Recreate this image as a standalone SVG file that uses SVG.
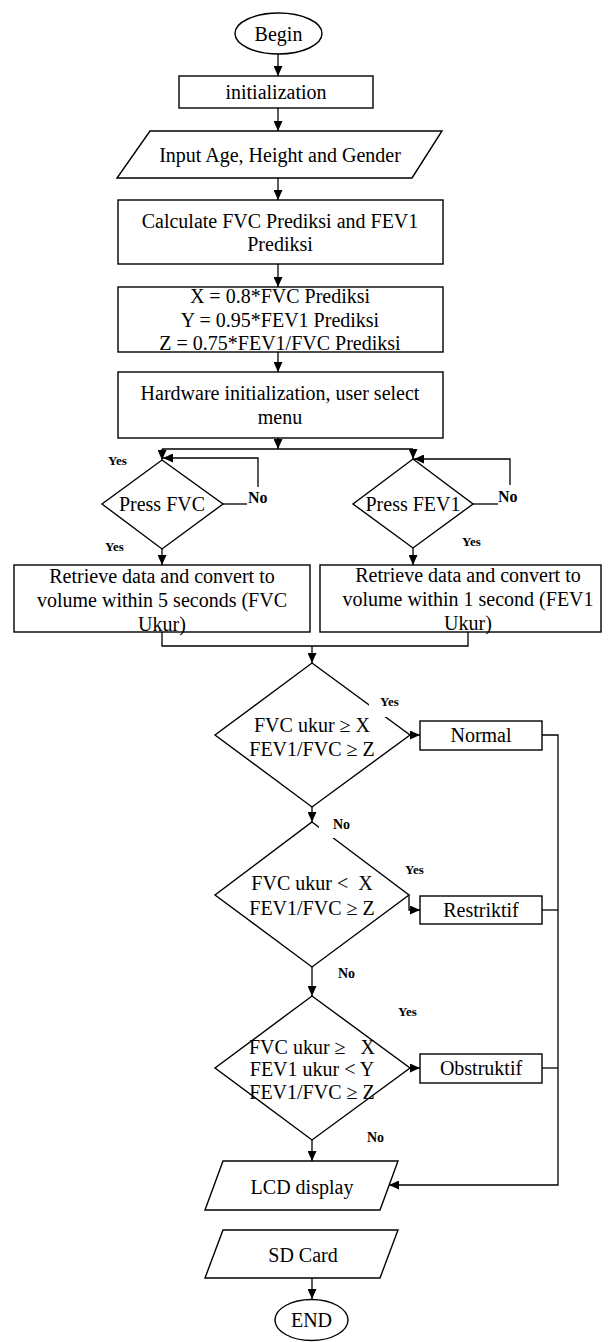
<svg xmlns="http://www.w3.org/2000/svg" width="615" height="1342" viewBox="0 0 615 1342">
<style>
.s{fill:#fff;stroke:#000;stroke-width:1.4}
.t{font-family:"Liberation Serif","Times New Roman",serif;font-size:20px;fill:#000;text-anchor:middle}
.pre{white-space:pre}
.y{font-family:"Liberation Serif","Times New Roman",serif;font-size:13px;font-weight:bold;fill:#000}
.n{font-family:"Liberation Serif","Times New Roman",serif;font-size:16px;font-weight:bold;fill:#000}
.c{fill:none;stroke:#000;stroke-width:1.3}
.bg{fill:#fff;stroke:none}
</style>
<defs>
<marker id="ah" markerUnits="userSpaceOnUse" markerWidth="10" markerHeight="9" refX="10" refY="4.5" orient="auto">
<path d="M0,0 L10,4.5 L0,9 z" fill="#000"/>
</marker>
</defs>

<g id="begin">
<ellipse class="s" cx="278.5" cy="33.5" rx="43.5" ry="20.5"/>
<text class="t" x="278.5" y="40.5">Begin</text>
</g>
<g id="init">
<rect class="s" x="179" y="76" width="194" height="32"/>
<text class="t" x="276" y="99">initialization</text>
</g>
<g id="input">
<polygon class="s" points="150,131 442,131 412,178 117,178"/>
<text class="t" x="280" y="162">Input Age, Height and Gender</text>
</g>
<g id="calc">
<rect class="s" x="118" y="200" width="325" height="64"/>
<text class="t" x="280" y="228">Calculate FVC Prediksi and FEV1</text>
<text class="t" x="280" y="251">Prediksi</text>
</g>
<g id="xyz">
<rect class="s" x="118" y="287" width="325" height="65"/>
<text class="t" x="280" y="303">X = 0.8*FVC Prediksi</text>
<text class="t" x="280" y="327">Y = 0.95*FEV1 Prediksi</text>
<text class="t" x="280" y="350">Z = 0.75*FEV1/FVC Prediksi</text>
</g>
<g id="hw">
<rect class="s" x="118" y="372" width="325" height="66"/>
<text class="t" x="280" y="400">Hardware initialization, user select</text>
<text class="t" x="280" y="424">menu</text>
</g>
<g id="pressfvc">
<polygon class="s" points="162,460 223,504 162,549 102,504"/>
<text class="t" x="162" y="511">Press FVC</text>
</g>
<g id="pressfev1">
<polygon class="s" points="413,459 473,504 413,548 353,504"/>
<text class="t" x="413" y="511">Press FEV1</text>
</g>
<g id="retrfvc">
<rect class="s" x="14" y="565" width="296" height="67"/>
<text class="t" x="162" y="583">Retrieve data and convert to</text>
<text class="t" x="162" y="607">volume within 5 seconds (FVC</text>
<text class="t" x="162" y="631">Ukur)</text>
</g>
<g id="retrfev1">
<rect class="s" x="320" y="565" width="281" height="67"/>
<text class="t" x="468" y="582">Retrieve data and convert to</text>
<text class="t" x="468" y="606">volume within 1 second (FEV1</text>
<text class="t" x="468" y="630">Ukur)</text>
</g>

<g id="connectors">
<path class="c" d="M278,54 V76" marker-end="url(#ah)"/>
<path class="c" d="M278,108 V131" marker-end="url(#ah)"/>
<path class="c" d="M278,178 V200" marker-end="url(#ah)"/>
<path class="c" d="M278,264 V287" marker-end="url(#ah)"/>
<path class="c" d="M278,352 V372" marker-end="url(#ah)"/>
<path class="c" d="M278,438 V449" marker-end="url(#ah)"/>
<path class="c" d="M162,449 H413"/>
<path class="c" d="M162,449 V460" marker-end="url(#ah)"/>
<path class="c" d="M413,449 V459" marker-end="url(#ah)"/>
<path class="c" d="M223,504 H247"/>
<path class="c" d="M258,487 V458 H163" marker-end="url(#ah)"/>
<path class="c" d="M473,504 H498"/>
<path class="c" d="M510,485 V459 H414" marker-end="url(#ah)"/>
<path class="c" d="M162,549 V565" marker-end="url(#ah)"/>
<path class="c" d="M413,548 V565" marker-end="url(#ah)"/>
<path class="c" d="M162,632 V646 H468 V632"/>
<path class="c" d="M312,646 V663" marker-end="url(#ah)"/>
<path class="c" d="M410,735 H420" marker-end="url(#ah)"/>
<path class="c" d="M312,807 V822" marker-end="url(#ah)"/>
<path class="c" d="M409,895 V910 H420" marker-end="url(#ah)"/>
<path class="c" d="M312,967 V996" marker-end="url(#ah)"/>
<path class="c" d="M410,1068 H420" marker-end="url(#ah)"/>
<path class="c" d="M312,1140 V1161" marker-end="url(#ah)"/>
<path class="c" d="M542,735 H558 V1185 H389" marker-end="url(#ah)"/>
<path class="c" d="M542,910 H558"/>
<path class="c" d="M542,1068 H558"/>
<path class="c" d="M312,1278 V1299" marker-end="url(#ah)"/>
</g>

<g id="d1">
<polygon class="s" points="312,663 410,735 312,807 215,735"/>
<text class="t" x="312" y="732">FVC ukur ≥ X</text>
<text class="t" x="312" y="756">FEV1/FVC ≥ Z</text>
</g>
<g id="normal">
<rect class="s" x="420" y="721" width="122" height="29"/>
<text class="t" x="481" y="742">Normal</text>
</g>
<g id="d2">
<polygon class="s" points="312,822 409,895 312,967 215,895"/>
<text class="t pre" x="312" y="890">FVC ukur &lt;  X</text>
<text class="t" x="312" y="915">FEV1/FVC ≥ Z</text>
</g>
<g id="restriktif">
<rect class="s" x="420" y="896" width="122" height="28"/>
<text class="t" x="481" y="917">Restriktif</text>
</g>
<g id="d3">
<polygon class="s" points="312,996 410,1068 312,1140 215,1068"/>
<text class="t pre" x="312" y="1054">FVC ukur ≥   X</text>
<text class="t" x="312" y="1076">FEV1 ukur &lt; Y</text>
<text class="t" x="312" y="1099">FEV1/FVC ≥ Z</text>
</g>
<g id="obstruktif">
<rect class="s" x="420" y="1054" width="122" height="29"/>
<text class="t" x="481" y="1075">Obstruktif</text>
</g>
<g id="lcd">
<polygon class="s" points="223,1161 398,1161 380,1210 205,1210"/>
<text class="t" x="302" y="1194">LCD display</text>
</g>
<g id="sd">
<polygon class="s" points="223,1230 398,1230 380,1278 205,1278"/>
<text class="t" x="303" y="1262">SD Card</text>
</g>
<g id="end">
<ellipse class="s" cx="311.5" cy="1320" rx="36.5" ry="20.5"/>
<text class="t" x="311.5" y="1327">END</text>
</g>

<g id="labels">
<text class="y" x="108" y="465">Yes</text>
<text class="y" x="105" y="551">Yes</text>
<text class="n" x="248" y="503">No</text>
<text class="n" x="498" y="502">No</text>
<text class="y" x="462" y="546">Yes</text>
<rect class="bg" x="369" y="695" width="34" height="22"/>
<text class="y" x="380" y="706">Yes</text>
<rect class="bg" x="319" y="815" width="32" height="23"/>
<text class="y" x="333" y="829" style="font-size:14px">No</text>
<text class="y" x="405" y="874">Yes</text>
<text class="y" x="338" y="978" style="font-size:14px">No</text>
<text class="y" x="398" y="1016">Yes</text>
<text class="y" x="367" y="1142" style="font-size:14px">No</text>
</g>
</svg>
